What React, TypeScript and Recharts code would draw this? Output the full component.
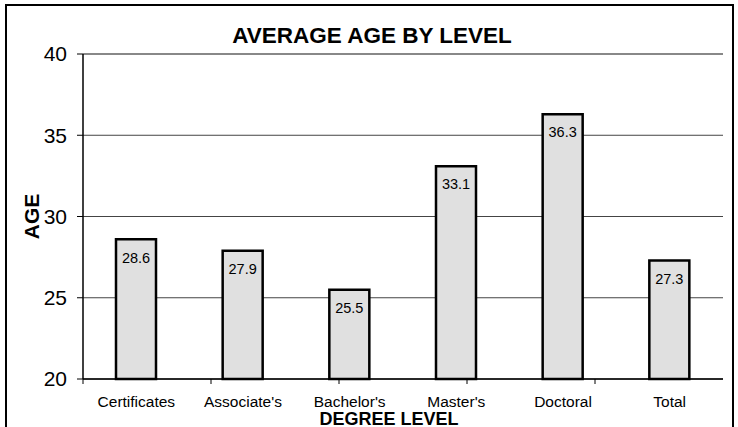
import React from 'react';
import { BarChart, Bar, XAxis, YAxis, CartesianGrid, ReferenceLine, LabelList } from 'recharts';

const categories = ['Certificates', "Associate's", "Bachelor's", "Master's", 'Doctoral', 'Total'];
const averageAge = [28.6, 27.9, 25.5, 33.1, 36.3, 27.3];
const yTicks = [20, 25, 30, 35, 40];
const boundaryTicks = [0, 1, 2, 3, 4, 5, 6];

const data = categories.map((level, i) => ({ level, age: averageAge[i] }));

const FONT = '"Liberation Sans", Arial, Helvetica, sans-serif';

const NoLabel = () => <g />;

export default function App() {
  return (
    <div
      style={{
        position: 'absolute',
        left: 0,
        top: 0,
        width: 738,
        height: 427,
        background: '#fff',
        overflow: 'hidden',
        fontFamily: FONT,
      }}
    >
      <div
        style={{
          position: 'absolute',
          left: 5,
          top: 4,
          width: 729,
          height: 460,
          border: '2px solid #000',
          boxSizing: 'border-box',
        }}
      />
      <BarChart
        width={738}
        height={427}
        data={data}
        margin={{ top: 54, right: 15, bottom: 0, left: -20 }}
        style={{ position: 'absolute', left: 0, top: 0 }}
      >
        <text x={372} y={43} textAnchor="middle" fontFamily={FONT} fontSize={22.5} fontWeight="bold" fill="#000">
          AVERAGE AGE BY LEVEL
        </text>
        <CartesianGrid xAxisId="cat" vertical={false} stroke="#444" strokeWidth={1} />
        <XAxis
          xAxisId="bounds"
          type="number"
          domain={[0, 6]}
          ticks={boundaryTicks}
          tick={NoLabel}
          height={1}
          axisLine={{ stroke: '#000', strokeWidth: 1.5 }}
          tickLine={{ stroke: '#000', strokeWidth: 1 }}
          tickSize={5}
        />
        <XAxis
          xAxisId="cat"
          dataKey="level"
          type="category"
          axisLine={false}
          tickLine={false}
          tickSize={0}
          tickMargin={16}
          height={47}
          interval={0}
          tick={{ fontSize: 15.5, fill: '#000', fontFamily: FONT }}
          label={{
            value: 'DEGREE LEVEL',
            position: 'insideBottom',
            offset: 2,
            fontSize: 18,
            fontWeight: 'bold',
            fill: '#000',
            fontFamily: FONT,
            dx: -14,
          }}
        />
        <YAxis
          domain={[20, 40]}
          ticks={yTicks}
          width={103}
          axisLine={{ stroke: '#000', strokeWidth: 1.5 }}
          tickLine={{ stroke: '#000', strokeWidth: 1 }}
          tickSize={6}
          tickMargin={10}
          tick={{ fontSize: 21, fill: '#000', fontFamily: FONT }}
          label={{
            value: 'AGE',
            angle: -90,
            position: 'center',
            fontSize: 21,
            fontWeight: 'bold',
            fill: '#000',
            fontFamily: FONT,
          }}
        />
        <ReferenceLine xAxisId="cat" y={40} stroke="#888" strokeWidth={2} />
        <ReferenceLine xAxisId="bounds" x={6} stroke="#888" strokeWidth={2} />
        <Bar
          xAxisId="cat"
          dataKey="age"
          fill="#e0e0e0"
          stroke="#000"
          strokeWidth={2.5}
          barSize={40}
          isAnimationActive={false}
        >
          <LabelList dataKey="age" position="insideTop" offset={13} fontSize={14.5} fill="#000" fontFamily={FONT} />
        </Bar>
      </BarChart>
    </div>
  );
}
